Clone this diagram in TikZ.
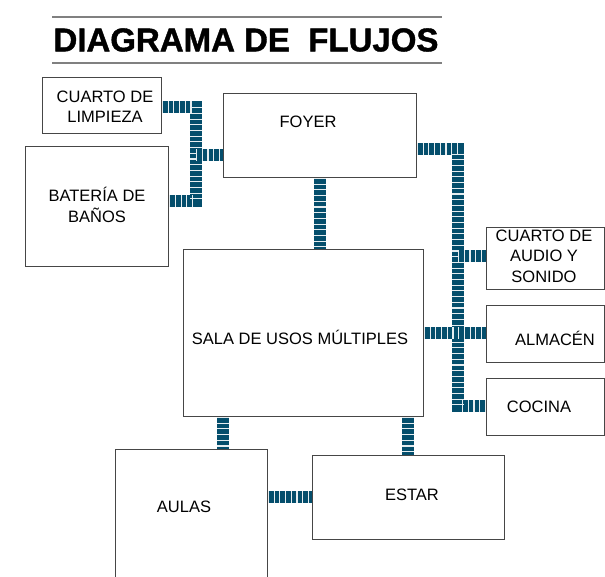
\documentclass[tikz,border=0pt]{standalone}
\usepackage{fontspec}
\setmainfont{Liberation Sans}
\definecolor{conncol}{RGB}{4,78,108}
\definecolor{boxline}{RGB}{70,70,70}
\begin{document}
\begin{tikzpicture}[x=1pt,y=-1pt,
  box/.style={draw=boxline,line width=0.9pt,fill=white,inner sep=0pt,anchor=north west},
  lbl/.style={align=center,font=\fontsize{16.5}{20.5}\selectfont,inner sep=0pt,text=black},
  conn/.style={line width=12.5pt,draw=conncol,line join=miter,
     postaction={draw=white,opacity=0.9,line width=12.5pt,dash pattern=on 1.1pt off 4.6pt}}]
\useasboundingbox (0,0) rectangle (605,576);
\clip (0,0) rectangle (605,576);
\fill[white] (0,0) rectangle (605,576);
% title
\draw[gray,line width=1.4pt] (52,17) -- (442,17);
\draw[gray,line width=1.4pt] (52,63) -- (442,63);
\node[inner sep=0pt,font=\fontsize{33}{36}\bfseries\selectfont\addfontfeature{FakeBold=1.2}] (title) at (246,40) {DIAGRAMA DE\ \ FLUJOS};
% boxes
\node[box,minimum width=119,minimum height=56] (limp) at (42,77) {};
\node[box,minimum width=143,minimum height=120] (bath) at (25,146) {};
\node[box,minimum width=193,minimum height=84] (foyer) at (223,93) {};
\node[box,minimum width=240,minimum height=167] (sum) at (183,249) {};
\node[box,minimum width=118,minimum height=62] (audio) at (486,227) {};
\node[box,minimum width=118,minimum height=57] (alm) at (486,305) {};
\node[box,minimum width=118,minimum height=57] (coc) at (486,378) {};
\node[box,minimum width=152,minimum height=140] (aulas) at (115,449) {};
\node[box,minimum width=192,minimum height=84] (estar) at (312,455) {};
% labels
\node[lbl] (tlimp) at (105,106.5) {CUARTO DE\\LIMPIEZA};
\node[lbl] (tbath) at (97,205) {BATERÍA DE\\BAÑOS};
\node[lbl] (tfoyer) at (308,122) {FOYER};
\node[lbl] (tsum) at (300,337) {SALA DE USOS MÚLTIPLES};
\node[lbl] (taudio) at (544,256) {CUARTO DE\\AUDIO Y\\SONIDO};
\node[lbl] (talm) at (555,338) {ALMACÉN};
\node[lbl] (tcoc) at (539,407) {COCINA};
\node[lbl] (taulas) at (184,507) {AULAS};
\node[lbl] (testar) at (412,495) {ESTAR};
% bus coordinates
\coordinate (l1) at (196,107);
\coordinate (l2) at (196,201);
\coordinate (l3) at (196,155);
\coordinate (r1) at (458,149);
\coordinate (r2) at (458,406);
\coordinate (r3) at (458,256);
\coordinate (m1) at (0,333);
\coordinate (v1) at (320,0);
\coordinate (v2) at (223,0);
\coordinate (v3) at (408,0);
\coordinate (h1) at (0,497);
% connectors
\draw[conn] (limp.east |- l1) -- (l1) -- (l2) -- (bath.east |- l2);
\draw[conn] (l3) -- (foyer.west |- l3);
\draw[conn] (foyer.east |- r1) -- (r1) -- (r2) -- (coc.west |- r2);
\draw[conn] (r3) -- (audio.west |- r3);
\draw[conn] (sum.east |- m1) -- (alm.west |- m1);
\draw[conn] (foyer.south -| v1) -- (sum.north -| v1);
\draw[conn] (sum.south -| v2) -- (aulas.north -| v2);
\draw[conn] (sum.south -| v3) -- (estar.north -| v3);
\draw[conn] (aulas.east |- h1) -- (estar.west |- h1);
\end{tikzpicture}
\end{document}
